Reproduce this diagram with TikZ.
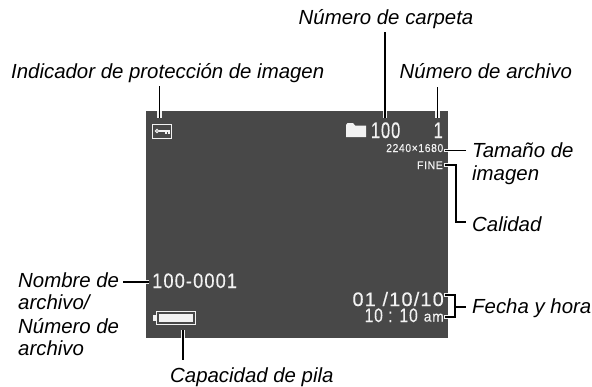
\documentclass[tikz,border=0pt]{standalone}
\usepackage{fontspec}
\setmainfont{Liberation Sans}
\newfontfamily\lcd[LetterSpace=6,FakeBold=0.3]{Liberation Sans}
\definecolor{screen}{HTML}{484848}
\definecolor{lcdw}{HTML}{F2F2F2}
\tikzset{
  x=1pt,y=-1pt,
  lbl/.style={font=\fontsize{20.4}{22.7}\selectfont\itshape,inner sep=0pt,align=left,text=black},
  lcdtext/.style={inner sep=0pt,text=lcdw,anchor=base east},
  halo/.style={draw=lcdw,line width=4.6pt},
  hstub/.style={draw=lcdw,line width=3.4pt},
  lead/.style={draw=black,line width=1.2pt},
}
\newcommand{\lcdt}[3]{\scalebox{#1}[1]{\fontsize{#2}{#2}\selectfont\lcd #3}}
\begin{document}
\begin{tikzpicture}
\useasboundingbox (0,0) rectangle (592,386);
\fill[screen] (146,111) rectangle (448,338);
% labels
\node[lbl,anchor=base west] (lprot) at (11,78.5) {Indicador de protección de imagen};
\node[lbl,anchor=base west] (lcarp) at (298.5,24) {Número de carpeta};
\node[lbl,anchor=base west] (larch) at (399.5,78.5) {Número de archivo};
\node[lbl,anchor=base west] (ltam) at (472,157) {Tamaño de};
\node[lbl,anchor=base west] (ltamb) at (472,180) {imagen};
\node[lbl,anchor=base west] (lcal) at (472,231) {Calidad};
\node[lbl,anchor=base west] (lfec) at (472,313) {Fecha y hora};
\node[lbl,anchor=base west] (lnoma) at (18,287) {Nombre de};
\node[lbl,anchor=base west] (lnomb) at (18,309.5) {archivo/};
\node[lbl,anchor=base west] (lnomc) at (18,333) {Número de};
\node[lbl,anchor=base west] (lnomd) at (18,355) {archivo};
\node[lbl,anchor=base west] (lcap) at (170,382) {Capacidad de pila};
% screen text
\node[lcdtext] (tcarp) at (400.5,138) {\lcdt{0.73}{22.5}{100}};
\node[lcdtext] (tarch) at (443,138) {\lcdt{0.73}{22.5}{1}};
\node[lcdtext] (ttam) at (443.5,152) {\lcdt{0.9}{11.5}{2240×1680}};
\node[lcdtext] (tfine) at (443,169) {\lcdt{0.95}{11}{FINE}};
\node[lcdtext,anchor=base west] (tnom) at (152,288) {\lcdt{0.87}{21}{100-0001}};
\node[lcdtext] (tfec) at (444,306) {\lcdt{1.02}{19.5}{01 /10/10}};
\node[lcdtext] (thor) at (418,322) {\lcdt{0.8}{19.5}{10 : 10}};
\node[lcdtext] (tam) at (444,321.5) {\lcdt{0.95}{14.5}{am}};
% key icon
\node[draw=lcdw,line width=1.1pt,minimum width=19pt,minimum height=13.5pt,inner sep=0pt] (key) at (162,131.5) {};
\draw[lcdw,line width=1pt] (157,131) circle (1.7);
\draw[lcdw,line width=1.1pt] (159,131) -- (169.5,131) (166,131) -- (166,133.5) (169,131) -- (169,133.5);
% folder icon
\fill[lcdw] (346,125) -- (347.5,123) -- (353,123) -- (355,125.5) -- (366,125.5) -- (366,137) -- (346,137) -- cycle;
% battery icon
\node[draw=lcdw,line width=1.8pt,fill=screen,minimum width=39pt,minimum height=13pt,inner sep=0pt] (bat) at (176,318) {};
\node[fill=lcdw,minimum width=34pt,minimum height=8pt,inner sep=0pt] (batin) at (176,318) {};
\fill[lcdw] (153,315) rectangle (156,321);
% coordinates
\coordinate (cprot) at (159.5,118);
\coordinate (uprot) at (159.5,86);
\coordinate (ccarp) at (385,118);
\coordinate (ucarp) at (385,32);
\coordinate (carc) at (437.7,118);
\coordinate (uarc) at (437.7,87);
\coordinate (ctam) at (445,150.5);
\coordinate (rtam) at (466,150.5);
\coordinate (cfin) at (445,165);
\coordinate (bfin) at (456,165);
\coordinate (dfin) at (456,222);
\coordinate (efin) at (466,222);
\coordinate (cf1) at (445,295);
\coordinate (cf2) at (445,317);
\coordinate (kf1) at (455,295);
\coordinate (kf2) at (455,317);
\coordinate (kfm) at (455,307);
\coordinate (rfm) at (466,307);
\coordinate (cnom) at (148.5,282);
\coordinate (rnom) at (123,282);
\coordinate (cbat) at (183,330);
\coordinate (ubat) at (183,360);
% halos inside the screen
\draw[halo] (159.5,111) -- (cprot);
\draw[halo] (385,111) -- (ccarp);
\draw[halo] (437.7,111) -- (carc);
\draw[halo] (183,338) -- (cbat);
\draw[hstub] (444,150.5) -- (448,150.5);
\draw[hstub] (444,165) -- (448,165);
\draw[hstub] (444,295) -- (448,295);
\draw[hstub] (444,317) -- (448,317);
\draw[hstub] (146,282) -- (148.5,282);
% leaders
\draw[lead] (uprot) -- (cprot);
\draw[lead] (ucarp) -- (ccarp);
\draw[lead] (uarc) -- (carc);
\draw[lead] (rtam) -- (ctam);
\draw[lead] (cfin) -- (bfin) -- (dfin) -- (efin);
\draw[lead] (cf1) -- (kf1) -- (kf2) -- (cf2);
\draw[lead] (kfm) -- (rfm);
\draw[lead] (rnom) -- (cnom);
\draw[lead] (cbat) -- (ubat);
\end{tikzpicture}
\end{document}
